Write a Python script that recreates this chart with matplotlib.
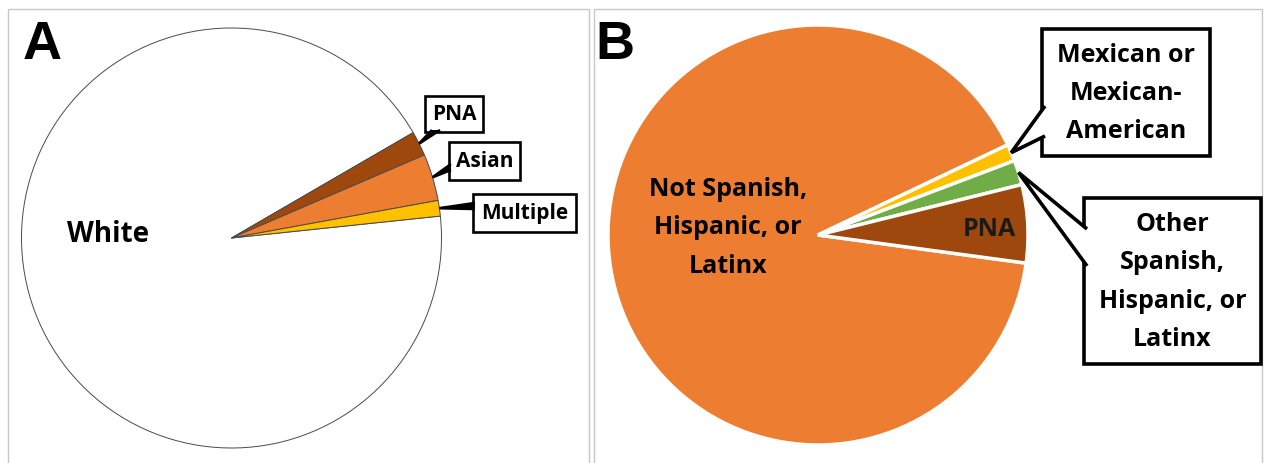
import matplotlib
matplotlib.use('Agg')
import matplotlib.pyplot as plt
from matplotlib.patches import Rectangle, Polygon
import numpy as np

W, H = 1264, 464
fig = plt.figure(figsize=(W / 100, H / 100), dpi=100)

# ---- data ----
race_labels = ['White', 'PNA', 'Asian', 'Multiple']
race_values = [93.3, 1.9, 3.6, 1.2]
race_colors = ['#FFFFFF', '#9E480E', '#ED7D31', '#FFC000']

eth_labels = ['Not Spanish,\nHispanic, or\nLatinx', 'Mexican or\nMexican-\nAmerican',
              'Other\nSpanish,\nHispanic, or\nLatinx', 'PNA']
eth_values = [90.8, 1.3, 1.9, 6.0]
eth_colors = ['#ED7D31', '#FFC000', '#70AD47', '#9E480E']

FONT = ['Open Sans', 'DejaVu Sans']
LETTER_FONT = ['Liberation Sans', 'DejaVu Sans']


def px_axes(x0, y0, w, h, **kw):
    return fig.add_axes([x0 / W, 1 - (y0 + h) / H, w / W, h / H], **kw)


# overlay in pixel coordinates
over = fig.add_axes([0, 0, 1, 1], zorder=5)
over.set_xlim(0, W)
over.set_ylim(H, 0)
over.axis('off')
over.patch.set_alpha(0)

# panel frames
over.add_patch(Rectangle((8, 10), 581, 470, fill=False, ec='#c8c8c8', lw=1, clip_on=False))
over.add_patch(Rectangle((594, 10), 668, 470, fill=False, ec='#c8c8c8', lw=1, clip_on=False))
over.text(42, 45, 'A', fontsize=39, fontweight='bold', family=LETTER_FONT, ha='center', va='center')
over.text(615, 45, 'B', fontsize=39, fontweight='bold', family=LETTER_FONT, ha='center', va='center')


def slice_point(ax, w, r=1.0):
    t = np.deg2rad((w.theta1 + w.theta2) / 2)
    p = ax.transData.transform((r * np.cos(t), r * np.sin(t)))
    return over.transData.inverted().transform(p)


def callout(text, box, base, tip, fs, lw, tail_fc, weight='bold', ls=1.2):
    x0, y0, x1, y1 = box
    over.add_patch(Rectangle((x0, y0), x1 - x0, y1 - y0, fc='white', ec='black', lw=lw,
                             zorder=2, clip_on=False))
    over.add_patch(Polygon([base[0], tip, base[1]], closed=False, fc=tail_fc, ec='black',
                           lw=lw, joinstyle='miter', zorder=3, clip_on=False))
    over.text((x0 + x1) / 2, (y0 + y1) / 2, text, ha='center', va='center', fontsize=fs,
              fontweight=weight, family=FONT, linespacing=ls, zorder=4)


# ---- Panel A ----
axA = px_axes(21.5, 29, 420, 420)
wedgesA, _ = axA.pie(race_values, colors=race_colors, startangle=6, counterclock=False,
                     radius=1, wedgeprops=dict(edgecolor='#4a4a4a', linewidth=0.7))
for w in wedgesA:
    w.set_clip_on(False)
axA.set_xlim(-1, 1)
axA.set_ylim(-1, 1)
axA.set_aspect('equal')

axA.text(-0.59, 0.02, race_labels[0], fontsize=20, fontweight='bold', family=FONT,
         ha='center', va='center')

# box (x0, y0, x1, y1) and tail base points in pixels
callA = {
    1: ((425, 97, 483, 133), [(432, 131), (440, 131)]),
    2: ((449, 143, 520, 181), [(451, 165), (451, 171)]),
    3: ((473, 195, 576, 233), [(475, 204), (475, 210)]),
}
for i, (box, base) in callA.items():
    callout(race_labels[i], box, base, slice_point(axA, wedgesA[i], 1.0), 15, 1.9, 'black')

# ---- Panel B ----
axB = px_axes(608, 26, 420, 420)
wedgesB, _ = axB.pie(eth_values, colors=eth_colors, startangle=-7.7, counterclock=False,
                     radius=1, wedgeprops=dict(edgecolor='white', linewidth=2.5))
for w in wedgesB:
    w.set_clip_on(False)
axB.set_xlim(-1, 1)
axB.set_ylim(-1, 1)
axB.set_aspect('equal')

axB.text(-0.43, 0.04, eth_labels[0], fontsize=18, fontweight='bold', family=FONT,
         ha='center', va='center', linespacing=1.71)
axB.text(0.815, 0.03, eth_labels[3], fontsize=18, fontweight='bold', family=FONT,
         ha='center', va='center', color='#1a1a1a')

callB = {
    1: ((1042, 30, 1210, 157), [(1045, 107), (1045, 137)]),
    2: ((1084, 199, 1261, 365), [(1087, 230), (1087, 267)]),
}
for i, (box, base) in callB.items():
    callout(eth_labels[i], box, base, slice_point(axB, wedgesB[i], 1.0), 18, 2.6, 'white',
            ls=1.71)

fig.savefig('out.png', dpi=100)
